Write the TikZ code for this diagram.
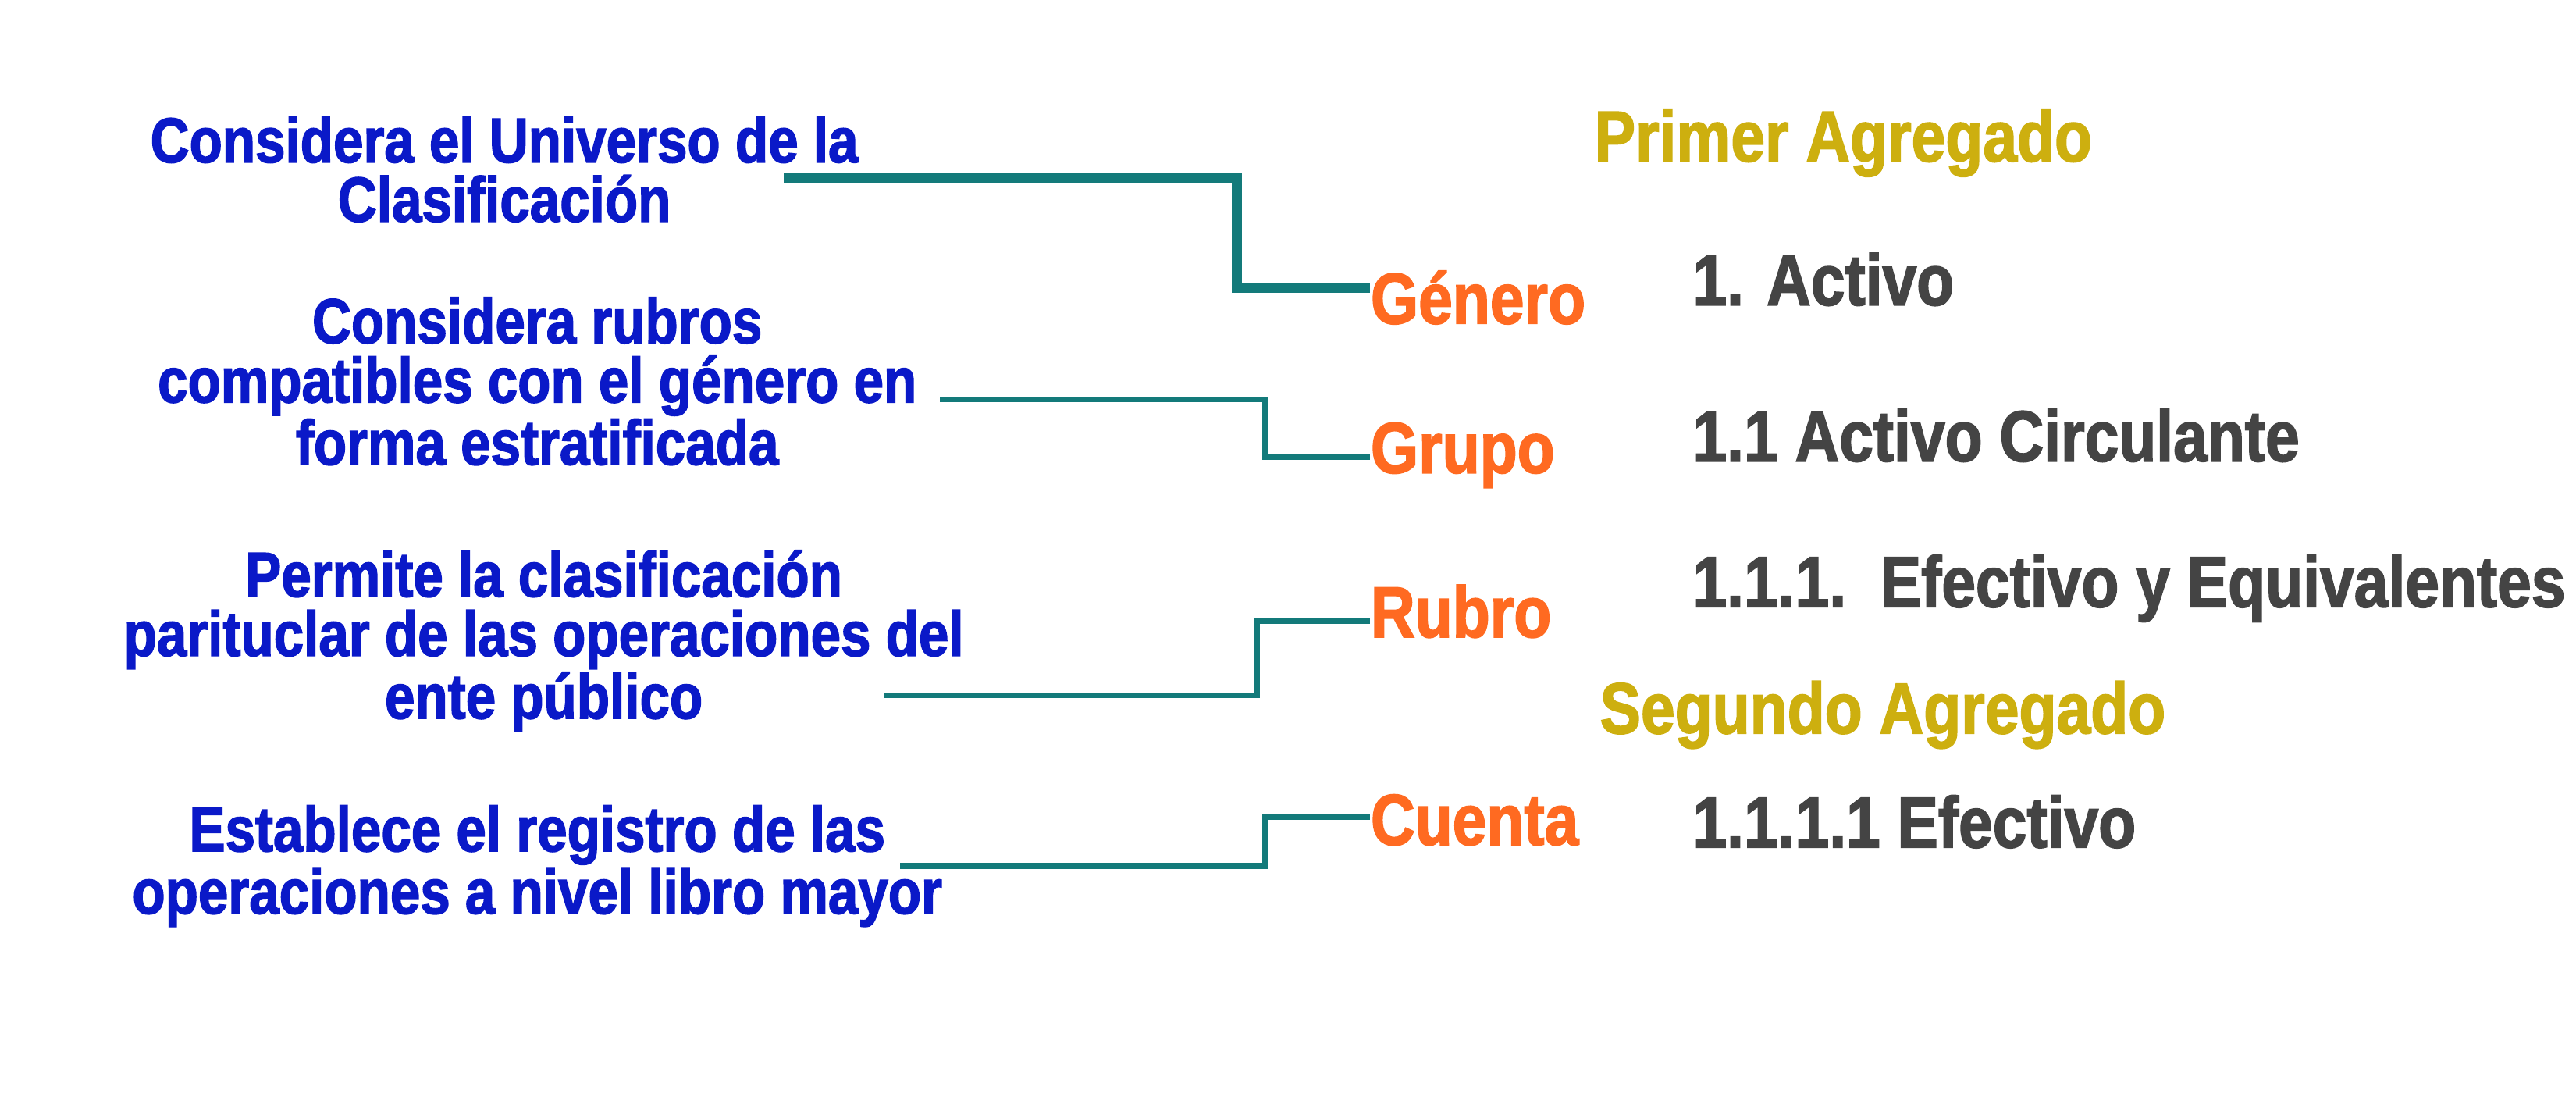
\documentclass[tikz,border=0pt]{standalone}
\usepackage{fontspec}
\setmainfont{Liberation Sans}[FakeStretch=0.85,FakeBold=1.8]
\definecolor{azul}{RGB}{10,25,200}
\definecolor{verde}{RGB}{19,122,122}
\definecolor{naranja}{RGB}{255,106,33}
\definecolor{oro}{RGB}{205,175,15}
\definecolor{gris}{RGB}{68,68,68}
\tikzset{
  desc/.style={text=azul, align=center, font=\bfseries\fontsize{22}{20.5}\selectfont},
  nivel/.style={text=naranja, anchor=west, inner sep=0, font=\bfseries\fontsize{25}{25}\selectfont},
  cuenta/.style={text=gris, anchor=west, inner sep=0, font=\bfseries\fontsize{25}{25}\selectfont},
  agregado/.style={text=oro, font=\bfseries\fontsize{25}{25}\selectfont},
  conector/.style={draw=verde, line width=2pt}
}
\begin{document}
\begin{tikzpicture}[x=0.02cm, y=-0.02cm]
			\useasboundingbox (0,0) rectangle (1568,674);
			\node[desc] (d1) at (307,103) {Considera el Universo de la\\Clasificación};
			\node[desc] (d2) at (327,232) {Considera rubros\\compatibles con el género en\\forma estratificada};
			\node[desc] (d3) at (331,390) {Permite la clasificación\\parituclar de las operaciones del\\ente público};
			\node[desc] (d4) at (327,527) {Establece el registro de las\\operaciones a nivel libro mayor};
			\node[nivel] (genero) at (834,181) {Género};
			\node[nivel] (grupo) at (834,277) {Grupo};
			\node[nivel] (rubro) at (834,372) {Rubro};
			\node[nivel] (cta) at (834,499) {Cuenta};
			\node[agregado] (prim) at (1122,87) {Primer Agregado};
			\node[agregado] (seg) at (1146,435) {Segundo Agregado};
			\node[cuenta] (c1) at (1030,170) {1. Activo};
			\node[cuenta] (c2) at (1030,265) {1.1 Activo Circulante};
			\node[cuenta] (c3) at (1030,358) {1.1.1.\ \ Efectivo y Equivalentes};
			\node[cuenta] (c4) at (1030,500) {1.1.1.1 Efectivo};
			\coordinate (s1) at (477,108);
			\coordinate (s2) at (572,243);
			\coordinate (s3) at (538,423);
			\coordinate (s4) at (548,527);
			\draw[conector, line width=3.5pt] (s1) -| (753,175) -- (834,175);
			\draw[conector] (s2) -| (770,278) -- (grupo.west |- 0,278);
			\draw[conector] (s3) -| (765,378) -- (rubro.west |- 0,378);
			\draw[conector] (s4) -| (770,497) -- (cta.west |- 0,497);
		\end{tikzpicture}
\end{document}
